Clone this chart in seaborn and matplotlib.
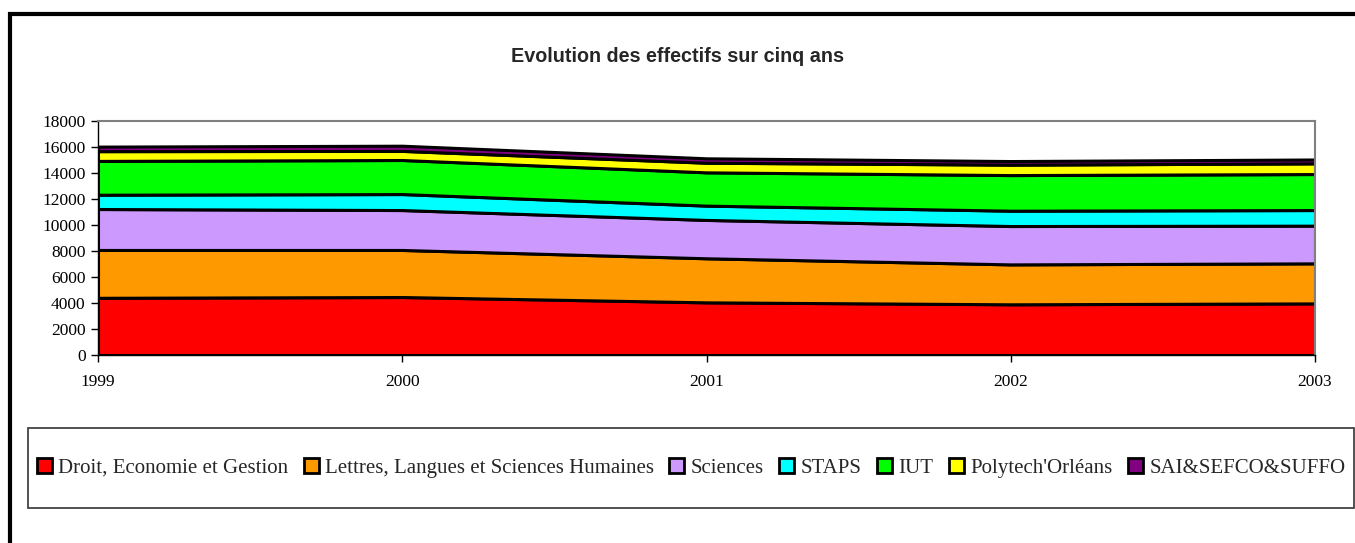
import matplotlib
matplotlib.use("Agg")
import matplotlib.pyplot as plt
import seaborn as sns
from matplotlib.patches import Patch, Rectangle

years = [1999, 2000, 2001, 2002, 2003]
labels = ['Droit, Economie et Gestion', 'Lettres, Langues et Sciences Humaines',
          'Sciences', 'STAPS', 'IUT', "Polytech'Orléans", 'SAI&SEFCO&SUFFO']
colors = ['#ff0000', '#ff9900', '#cc99ff', '#00ffff', '#00ff00', '#ffff00', '#800080']

droit = [4400, 4460, 4050, 3900, 3970]
lettres = [3680, 3620, 3390, 3070, 3080]
sciences = [3150, 3070, 2950, 2950, 2900]
staps = [1100, 1230, 1100, 1180, 1200]
iut = [2600, 2620, 2560, 2740, 2770]
polytech = [750, 700, 740, 800, 820]
sai = [350, 400, 340, 280, 300]

series = [droit, lettres, sciences, staps, iut, polytech, sai]

sns.set_theme(style="white")
plt.rcParams['font.family'] = ['Liberation Serif', 'DejaVu Serif']

fig = plt.figure(figsize=(13.55, 5.43), dpi=100)
ax = fig.add_axes([98 / 1355, 1 - 355 / 543, (1315 - 98) / 1355, (355 - 121) / 543])

ax.stackplot(years, *series, colors=colors, edgecolor='black', linewidth=2.2)

ax.set_xlim(1999, 2003)
ax.set_ylim(0, 18000)
ax.set_xticks(years)
ax.set_xticklabels([str(y) for y in years])
ax.set_yticks(range(0, 18001, 2000))
ax.tick_params(axis='both', direction='out', length=5, width=1, color='black',
               labelsize=12.5, labelcolor='black', pad=4)
ax.tick_params(axis='x', pad=9, bottom=True)
ax.tick_params(axis='y', left=True)
for side in ['top', 'right']:
    ax.spines[side].set_color('#808080')
    ax.spines[side].set_linewidth(1.5)
for side in ['left', 'bottom']:
    ax.spines[side].set_color('black')
    ax.spines[side].set_linewidth(1)

fig.text(0.5, 1 - 57 / 543, 'Evolution des effectifs sur cinq ans', ha='center', va='center',
         fontsize=14.2, fontweight='bold', family=['Liberation Sans', 'DejaVu Sans'])

# legend box
fig.patches.append(Rectangle((28 / 1355, 1 - 508 / 543), 1326 / 1355, 80 / 543,
                             transform=fig.transFigure, fill=False, edgecolor='#333333',
                             linewidth=1.2))
handles = [Patch(facecolor=c, edgecolor='black', linewidth=2) for c in colors]
fig.legend(handles, labels, loc='center', bbox_to_anchor=(691 / 1355, 1 - 468 / 543),
           ncol=7, frameon=False, fontsize=15, handlelength=0.72, handleheight=0.72,
           handletextpad=0.3, columnspacing=0.75)

# outer chart border (left and top edges visible)
fig.patches.append(Rectangle((10 / 1355, -0.1), 1.2, 1 - 14 / 543 + 0.1,
                             transform=fig.transFigure, fill=False, edgecolor='black',
                             linewidth=3, clip_on=False))

fig.savefig('out.png', dpi=100)
